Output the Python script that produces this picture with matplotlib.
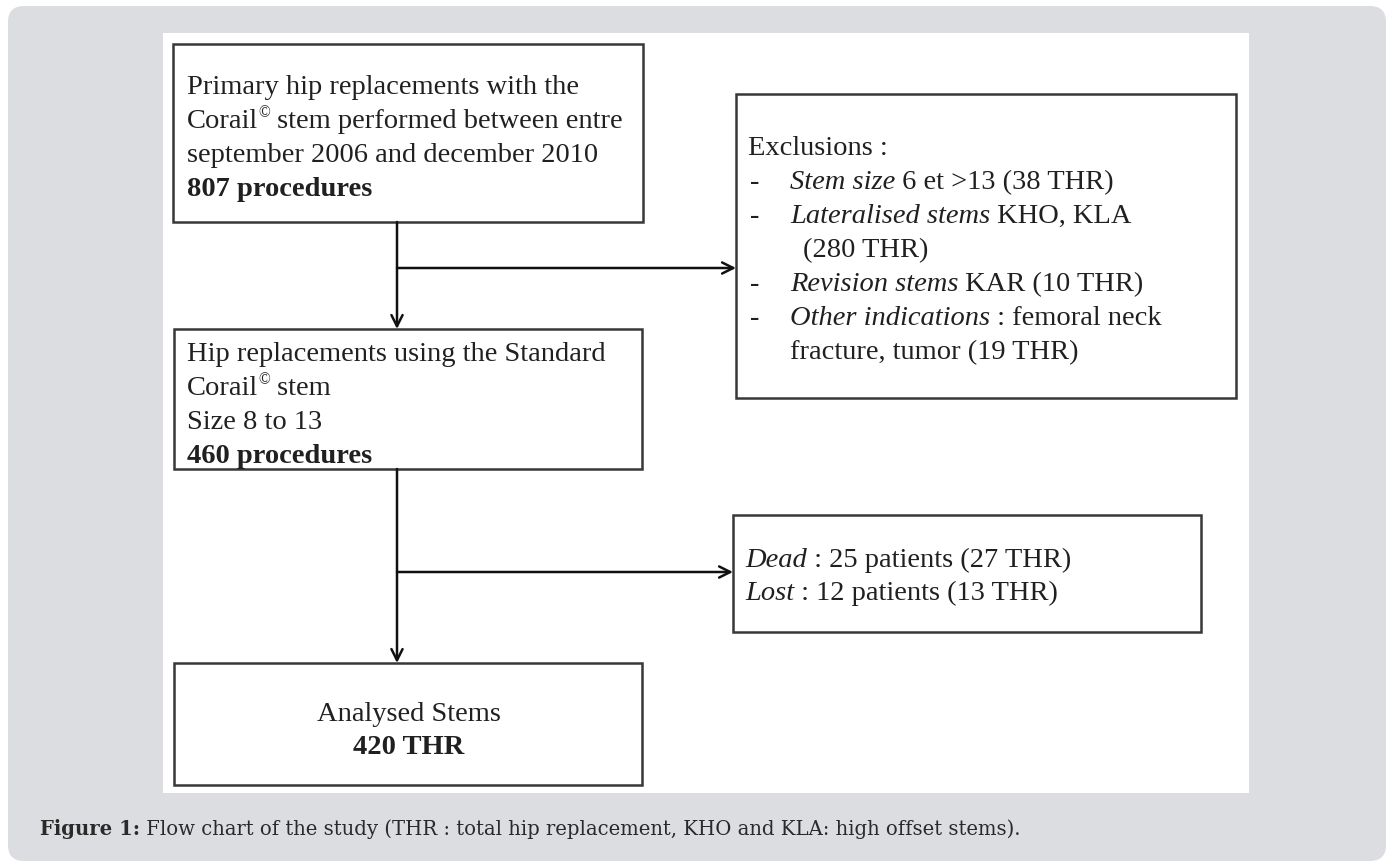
import matplotlib.pyplot as plt
from matplotlib.patches import Rectangle, FancyBboxPatch

# box texts: each line is a list of (text, style) segments
box1_lines = [
    [("Primary hip replacements with the", "n")],
    [("Corail", "n"), ("©", "sup"), (" stem performed between entre", "n")],
    [("september 2006 and december 2010", "n")],
    [("807 procedures", "b")],
]
box2_lines = [
    [("Hip replacements using the Standard", "n")],
    [("Corail", "n"), ("©", "sup"), (" stem", "n")],
    [("Size 8 to 13", "n")],
    [("460 procedures", "b")],
]
excl_lines = [
    [("Exclusions :", "n")],
    [("Stem size", "i"), (" 6 et >13 (38 THR)", "n")],
    [("Lateralised stems", "i"), (" KHO, KLA", "n")],
    [("(280 THR)", "n")],
    [("Revision stems", "i"), (" KAR (10 THR)", "n")],
    [("Other indications", "i"), (" : femoral neck", "n")],
    [("fracture, tumor (19 THR)", "n")],
]
excl_dash = [False, True, True, False, True, True, False]
lost_lines = [
    [("Dead", "i"), (" : 25 patients (27 THR)", "n")],
    [("Lost", "i"), (" : 12 patients (13 THR)", "n")],
]
final_lines = ["Analysed Stems", "420 THR"]
caption_bold = "Figure 1:"
caption_text = " Flow chart of the study (THR : total hip replacement, KHO and KLA: high offset stems)."

W, H = 1394, 865
FS = 20.5
SERIF = "Liberation Serif"
INK = "#202020"

fig = plt.figure(figsize=(W / 100, H / 100), dpi=100)
ax = fig.add_axes([0, 0, 1, 1])
ax.set_xlim(0, W)
ax.set_ylim(H, 0)
ax.axis("off")

# grey card and white panel
ax.add_patch(FancyBboxPatch((8, 6), W - 16, H - 10, boxstyle="round,pad=0,rounding_size=16",
                            fc="#dcdde0", ec="none"))
ax.add_patch(Rectangle((163, 33), 1249 - 163, 793 - 33, fc="white", ec="none"))


def box(x0, y0, x1, y1):
    ax.add_patch(Rectangle((x0, y0), x1 - x0, y1 - y0, fc="none", ec="#383838", lw=1.8))


def rich_line(x, y, segs, size=FS):
    prev = None
    for txt, st in segs:
        kw = dict(fontsize=size, family=SERIF, color=INK)
        if st == "b":
            kw["fontweight"] = "bold"
        if st == "i":
            kw["fontstyle"] = "italic"
        if prev is None:
            t = ax.text(x, y, txt, va="baseline", ha="left", **kw)
        elif st == "sup":
            kw["fontsize"] = size * 0.55
            t = ax.annotate(txt, xy=(1, y - 11), xycoords=(prev, "data"),
                            va="baseline", ha="left", **kw)
        else:
            t = ax.annotate(txt, xy=(1, y), xycoords=(prev, "data"),
                            va="baseline", ha="left", **kw)
        prev = t


def arrow(p0, p1):
    ax.annotate("", xy=p1, xytext=p0,
                arrowprops=dict(arrowstyle="->", lw=1.8, color="#111111",
                                shrinkA=0, shrinkB=0, mutation_scale=20))


# boxes
box(173, 44, 643, 222)
box(174, 329, 642, 469)
box(174, 663, 642, 785)
box(736, 94, 1236, 398)
box(733, 515, 1201, 632)

# connectors
arrow((397, 222), (397, 329))
arrow((397, 268), (736, 268))
arrow((397, 469), (397, 663))
arrow((397, 572), (733, 572))

# texts
for i, segs in enumerate(box1_lines):
    rich_line(187, 94 + 34 * i, segs)
for i, segs in enumerate(box2_lines):
    rich_line(187, 361 + 34 * i, segs)
for i, segs in enumerate(excl_lines):
    yb = 155 + 34 * i
    if i == 0:
        rich_line(748, yb, segs)
    elif excl_dash[i]:
        ax.text(750, yb, "-", fontsize=FS, family=SERIF, color=INK, va="baseline")
        rich_line(790, yb, segs)
    elif i == 3:
        rich_line(803, yb, segs)
    else:
        rich_line(790, yb, segs)
for i, segs in enumerate(lost_lines):
    rich_line(745, 567 + 33 * i, segs)

ax.text(409, 721, final_lines[0], fontsize=FS, family=SERIF, color=INK, ha="center", va="baseline")
ax.text(409, 754, final_lines[1], fontsize=FS, family=SERIF, color=INK, ha="center", va="baseline",
        fontweight="bold")

# caption
cap = ax.text(40, 835, caption_bold, fontsize=14.1, family="DejaVu Serif", color="#2a2a2a",
              fontweight="bold", va="baseline")
ax.annotate(caption_text, xy=(1, 835), xycoords=(cap, "data"), fontsize=14.1, family="DejaVu Serif",
            color="#2a2a2a", va="baseline")

fig.savefig("out.png", dpi=100)
